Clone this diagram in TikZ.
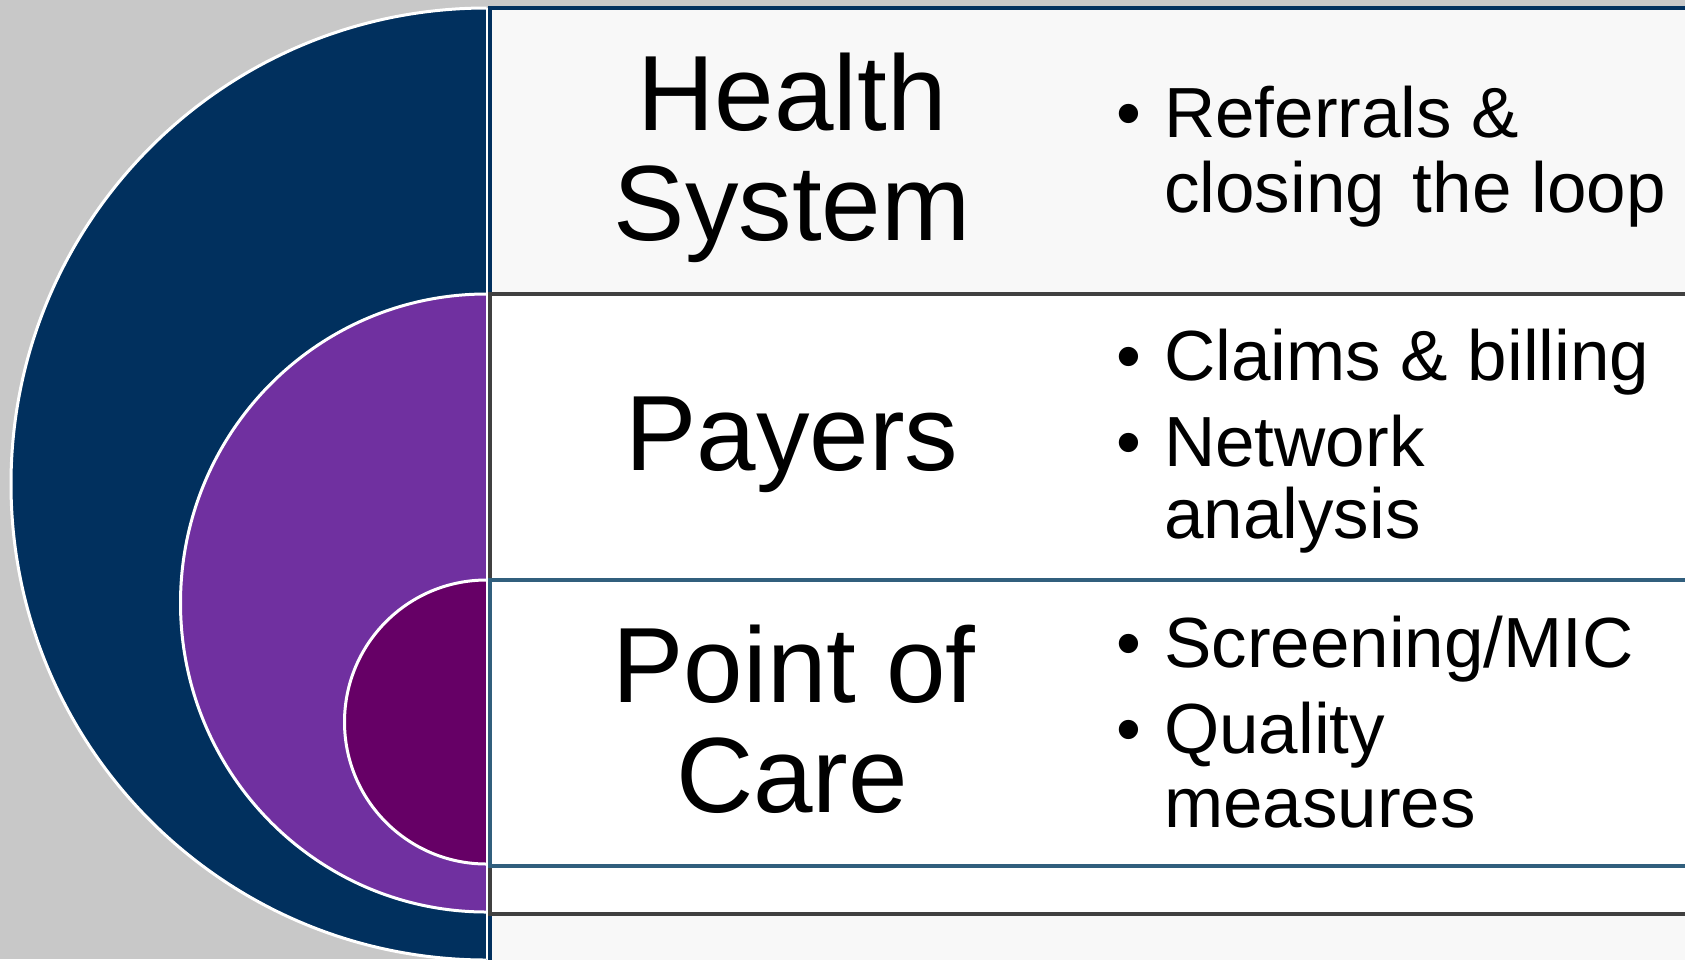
\documentclass[tikz,border=0pt]{standalone}
\usepackage{fontspec}
\setmainfont{Liberation Sans}
\definecolor{bggray}{RGB}{200,200,200}
\definecolor{navy}{RGB}{1,48,94}
\definecolor{purp}{RGB}{112,48,160}
\definecolor{plum}{RGB}{102,0,102}
\definecolor{rowgray}{RGB}{248,248,248}
\definecolor{darkline}{RGB}{64,64,64}
\definecolor{tealline}{RGB}{49,95,125}
\begin{document}
\begin{tikzpicture}[x=1pt,y=-1pt,
  lbl/.style={anchor=base, inner sep=0pt, font=\fontsize{107}{110}\selectfont},
  blt/.style={anchor=base west, inner sep=0pt, font=\fontsize{71}{74}\selectfont},
  dotmark/.style={anchor=base, inner sep=0pt, font=\fontsize{71}{74}\selectfont},
  half/.style={draw=white, line width=3pt},
  rowbox/.style={line width=4pt}]
\useasboundingbox (0,0) rectangle (1685,959);
\clip (0,0) rectangle (1685,959);
\fill[bggray] (0,0) rectangle (1685,959);
% table rows
\draw[rowbox, draw=navy, fill=rowgray] (490,8) rectangle (1720,1000);
\draw[rowbox, draw=darkline, fill=white] (490,294) rectangle (1720,914);
\draw[rowbox, draw=tealline, fill=white] (490,580) rectangle (1720,866);
% half discs
\begin{scope}
\clip (0,0) rectangle (486.5,959);
\draw[half, fill=navy] (486.5,484) ellipse [x radius=475.5, y radius=476];
\draw[half, fill=purp] (486.5,603) ellipse [x radius=306, y radius=309];
\draw[half, fill=plum] (486.5,722) ellipse [x radius=142, y radius=142];
\end{scope}
\draw[white, line width=1.5pt] (487.2,8) -- (487.2,959);
% labels
\node[lbl] (hs1) at (792,130) {Health};
\node[lbl] (hs2) at (792,240) {System};
\node[lbl] (pay) at (792,470) {Payers};
\node[lbl] (pc1) at (794,702) {Point of};
\node[lbl] (pc2) at (792,812) {Care};
% bullets
\node[dotmark] (d1) at (1129,137) {•};
\node[dotmark] (d2) at (1129,380) {•};
\node[dotmark] (d3) at (1129,466) {•};
\node[dotmark] (d4) at (1129,667) {•};
\node[dotmark] (d5) at (1129,753) {•};
\node[blt] (r1a) at (1164,137) {Referrals \&};
\node[blt] (r1b) at (1164,212) {closing\hspace{8pt} the loop};
\node[blt] (r2a) at (1164,380) {Claims \& billing};
\node[blt] (r2b) at (1164,466) {Network};
\node[blt] (r2c) at (1164,538) {analysis};
\node[blt] (r3a) at (1164,667) {Screening/MIC};
\node[blt] (r3b) at (1164,753) {Quality};
\node[blt] (r3c) at (1164,827) {measures};
\end{tikzpicture}
\end{document}
